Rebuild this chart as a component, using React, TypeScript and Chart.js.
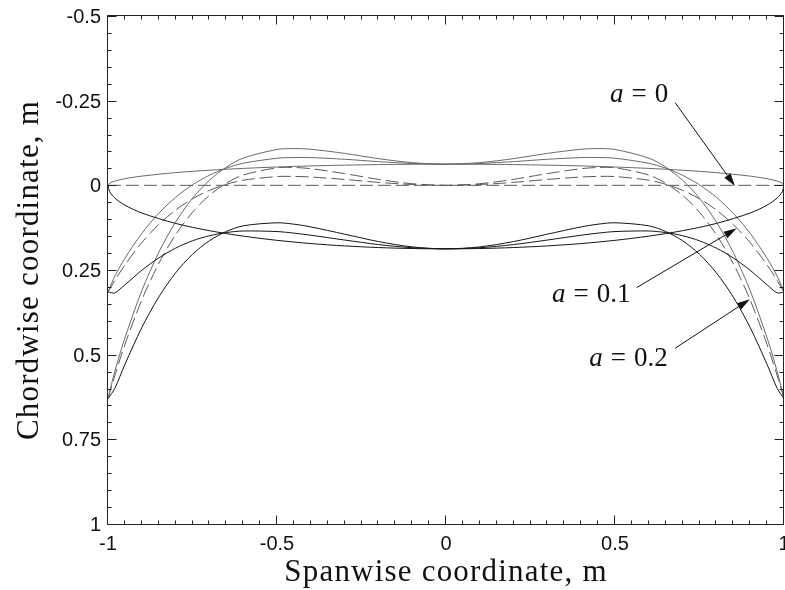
import React, { useEffect, useRef } from "react";
import { Chart, registerables } from "chart.js";

Chart.register(...registerables);

// Spanwise stations (m) for the swept planforms a = 0.1 and a = 0.2
const SPAN = [-1, -0.98, -0.95, -0.9, -0.85, -0.8, -0.75, -0.7, -0.65, -0.6, -0.5, -0.45, -0.4, -0.3, -0.2, -0.1, 0,
  0.1, 0.2, 0.3, 0.4, 0.45, 0.5, 0.6, 0.65, 0.7, 0.75, 0.8, 0.85, 0.9, 0.95, 0.98, 1];

// a = 0.1 : leading edge, trailing edge, quarter-chord line
const LE_A1 = [0.3149, 0.2688, 0.2156, 0.142, 0.0828, 0.0355, -0.0015, -0.0297, -0.0506, -0.0652, -0.08, -0.0821, -0.0819, -0.077, -0.07, -0.0646, -0.0625,
  -0.0646, -0.07, -0.077, -0.0819, -0.0821, -0.08, -0.0652, -0.0506, -0.0297, -0.0015, 0.0355, 0.0828, 0.142, 0.2156, 0.2688, 0.3149];
const TE_A1 = [0.3149, 0.3175, 0.2937, 0.2509, 0.2145, 0.1855, 0.1638, 0.1488, 0.1394, 0.1348, 0.1365, 0.1411, 0.1473, 0.1615, 0.1749, 0.1842, 0.1875,
  0.1842, 0.1749, 0.1615, 0.1473, 0.1411, 0.1365, 0.1348, 0.1394, 0.1488, 0.1638, 0.1855, 0.2145, 0.2509, 0.2937, 0.3175, 0.3149];
const QC_A1 = [0.3149, 0.2812, 0.2351, 0.1692, 0.1157, 0.073, 0.0398, 0.0149, -0.0031, -0.0152, -0.0259, -0.0263, -0.0246, -0.0174, -0.0088, -0.0024, 0,
  -0.0024, -0.0088, -0.0174, -0.0246, -0.0263, -0.0259, -0.0152, -0.0031, 0.0149, 0.0398, 0.073, 0.1157, 0.1692, 0.2351, 0.2812, 0.3149];

// a = 0.2 : leading edge, trailing edge, quarter-chord line
const LE_A2 = [0.6299, 0.5501, 0.4508, 0.3112, 0.1984, 0.1085, 0.0384, -0.0149, -0.0537, -0.0804, -0.1059, -0.1085, -0.1065, -0.0943, -0.0789, -0.067, -0.0625,
  -0.067, -0.0789, -0.0943, -0.1065, -0.1085, -0.1059, -0.0804, -0.0537, -0.0149, 0.0384, 0.1085, 0.1984, 0.3112, 0.4508, 0.5501, 0.6299];
const TE_A2 = [0.6299, 0.5998, 0.5289, 0.4201, 0.3301, 0.2585, 0.2037, 0.1636, 0.1363, 0.1196, 0.1106, 0.1147, 0.1227, 0.1442, 0.166, 0.1818, 0.1875,
  0.1818, 0.166, 0.1442, 0.1227, 0.1147, 0.1106, 0.1196, 0.1363, 0.1636, 0.2037, 0.2585, 0.3301, 0.4201, 0.5289, 0.5998, 0.6299];
const QC_A2 = [0.6299, 0.5625, 0.4703, 0.3384, 0.2313, 0.146, 0.0797, 0.0297, -0.0062, -0.0304, -0.0518, -0.0527, -0.0492, -0.0347, -0.0177, -0.0048, 0,
  -0.0048, -0.0177, -0.0347, -0.0492, -0.0527, -0.0518, -0.0304, -0.0062, 0.0297, 0.0797, 0.146, 0.2313, 0.3384, 0.4703, 0.5625, 0.6299];

// a = 0 : elliptic planform
const SPAN_E = [-1, -0.995, -0.98, -0.95, -0.9, -0.8, -0.7, -0.6, -0.5, -0.4, -0.3, -0.2, -0.1, 0,
  0.1, 0.2, 0.3, 0.4, 0.5, 0.6, 0.7, 0.8, 0.9, 0.95, 0.98, 0.995, 1];
const LE_A0 = [0, -0.0062, -0.0124, -0.0195, -0.0272, -0.0375, -0.0446, -0.05, -0.0541, -0.0573, -0.0596, -0.0612, -0.0622, -0.0625,
  -0.0622, -0.0612, -0.0596, -0.0573, -0.0541, -0.05, -0.0446, -0.0375, -0.0272, -0.0195, -0.0124, -0.0062, 0];
const TE_A0 = [0, 0.0187, 0.0373, 0.0585, 0.0817, 0.1125, 0.1339, 0.15, 0.1624, 0.1719, 0.1789, 0.1837, 0.1866, 0.1875,
  0.1866, 0.1837, 0.1789, 0.1719, 0.1624, 0.15, 0.1339, 0.1125, 0.0817, 0.0585, 0.0373, 0.0187, 0];
const SPAN_QC0 = [-1, 1];
const QC_A0 = [0, 0];

// Axes
const X_MIN = -1;
const X_MAX = 1;
const Y_MIN = -0.5;
const Y_MAX = 1;
const X_TICKS = [-1, -0.5, 0, 0.5, 1];
const X_TICK_LABELS = ["-1", "-0.5", "0", "0.5", "1"];
const Y_TICKS = [-0.5, -0.25, 0, 0.25, 0.5, 0.75, 1];
const Y_TICK_LABELS = ["-0.5", "-0.25", "0", "0.25", "0.5", "0.75", "1"];
const MINOR_STEP = 0.05;
const X_TITLE = "Spanwise coordinate, m";
const Y_TITLE = "Chordwise coordinate, m";

// Annotations
const ANNOT_VALUES = ["0", "0.1", "0.2"];
const ANNOT_TEXT_X = [0.485, 0.3136, 0.424];
const ANNOT_TEXT_Y = [-0.245, 0.3445, 0.533];
const ARROW_FROM_X = [0.678, 0.564, 0.678];
const ARROW_FROM_Y = [-0.244, 0.302, 0.481];
const ARROW_TO_X = [0.855, 0.86, 0.899];
const ARROW_TO_Y = [0.002, 0.127, 0.3365];

const pts = (xs: number[], ys: number[]) => xs.map((x, i) => ({ x, y: ys[i] }));

const LE_COLOR = "#6a6a6a";
const TE_COLOR = "#151515";
const QC_COLOR = "#5a5a5a";

const line = (xs: number[], ys: number[], color: string, dashed = false) => ({
  data: pts(xs, ys),
  showLine: true,
  borderColor: color,
  borderWidth: 1,
  pointRadius: 0,
  tension: 0.3,
  borderDash: dashed ? [13, 5] : [],
  fill: false,
});

const framePlugin = {
  id: "framePlugin",
  beforeDraw(chart: any) {
    const ctx = chart.ctx;
    ctx.save();
    ctx.fillStyle = "#ffffff";
    ctx.fillRect(0, 0, chart.width, chart.height);
    ctx.restore();
  },
  afterDraw(chart: any) {
    const ctx = chart.ctx;
    const xs = chart.scales.x;
    const ys = chart.scales.y;
    const { left, right, top, bottom } = chart.chartArea;
    const L = left - 0.5;
    const R = right - 0.5;
    const T = top - 0.5;
    const B = bottom + 0.5;
    ctx.save();
    ctx.strokeStyle = "#222";
    ctx.lineWidth = 1;
    ctx.setLineDash([]);
    ctx.beginPath();
    ctx.moveTo(L, T);
    ctx.lineTo(R, T);
    ctx.lineTo(R, B);
    ctx.lineTo(L, B);
    ctx.closePath();
    ctx.stroke();

    const MAJ = 9;
    const MIN = 4;
    ctx.beginPath();
    const nx = Math.round((X_MAX - X_MIN) / MINOR_STEP);
    for (let i = 0; i <= nx; i++) {
      const v = X_MIN + i * MINOR_STEP;
      const isMaj = X_TICKS.some((t) => Math.abs(t - v) < 1e-6);
      const len = isMaj ? MAJ : MIN;
      const px = Math.round(xs.getPixelForValue(v)) - 0.5;
      ctx.moveTo(px, B);
      ctx.lineTo(px, B - len);
      ctx.moveTo(px, T);
      ctx.lineTo(px, T + len);
    }
    const ny = Math.round((Y_MAX - Y_MIN) / MINOR_STEP);
    for (let i = 0; i <= ny; i++) {
      const v = Y_MIN + i * MINOR_STEP;
      const isMaj = Y_TICKS.some((t) => Math.abs(t - v) < 1e-6);
      const len = isMaj ? MAJ : MIN;
      const py = Math.round(ys.getPixelForValue(v)) + 0.5;
      ctx.moveTo(L, py);
      ctx.lineTo(L + len, py);
      ctx.moveTo(R, py);
      ctx.lineTo(R - len, py);
    }
    ctx.stroke();

    // tick labels
    ctx.fillStyle = "#111";
    ctx.font = '20px "Liberation Sans", Arial, sans-serif';
    ctx.textBaseline = "alphabetic";
    ctx.textAlign = "center";
    X_TICKS.forEach((t, i) => {
      ctx.fillText(X_TICK_LABELS[i], xs.getPixelForValue(t), bottom + 26);
    });
    ctx.textAlign = "right";
    Y_TICKS.forEach((t, i) => {
      ctx.fillText(Y_TICK_LABELS[i], left - 7, ys.getPixelForValue(t) + 7);
    });

    // axis titles
    ctx.font = '31px "Liberation Serif", "Times New Roman", serif';
    try { (ctx as any).letterSpacing = "1.2px"; } catch (e) {}
    ctx.textAlign = "center";
    ctx.fillText(X_TITLE, (left + right) / 2, bottom + 57);
    ctx.save();
    ctx.translate(38, (top + bottom) / 2);
    ctx.rotate(-Math.PI / 2);
    ctx.fillText(Y_TITLE, 0, 0);
    ctx.restore();
    try { (ctx as any).letterSpacing = "0px"; } catch (e) {}

    // annotations
    ctx.strokeStyle = "#111";
    ctx.fillStyle = "#111";
    ANNOT_VALUES.forEach((val, i) => {
      const x0 = xs.getPixelForValue(ARROW_FROM_X[i]);
      const y0 = ys.getPixelForValue(ARROW_FROM_Y[i]);
      const x1 = xs.getPixelForValue(ARROW_TO_X[i]);
      const y1 = ys.getPixelForValue(ARROW_TO_Y[i]);
      const ang = Math.atan2(y1 - y0, x1 - x0);
      const hl = 13;
      const hw = 3.8;
      const bx = x1 - hl * Math.cos(ang);
      const by = y1 - hl * Math.sin(ang);
      ctx.beginPath();
      ctx.moveTo(x0, y0);
      ctx.lineTo(bx, by);
      ctx.stroke();
      ctx.beginPath();
      ctx.moveTo(x1, y1);
      ctx.lineTo(bx + hw * Math.sin(ang), by - hw * Math.cos(ang));
      ctx.lineTo(bx - hw * Math.sin(ang), by + hw * Math.cos(ang));
      ctx.closePath();
      ctx.fill();

      const tx = xs.getPixelForValue(ANNOT_TEXT_X[i]);
      const ty = ys.getPixelForValue(ANNOT_TEXT_Y[i]);
      ctx.textAlign = "left";
      ctx.font = 'italic 27px "Liberation Serif", "Times New Roman", serif';
      ctx.fillText("a", tx, ty);
      let cx = tx + ctx.measureText("a").width + 8;
      ctx.font = '27px "Liberation Serif", "Times New Roman", serif';
      ctx.fillText("=", cx, ty);
      cx += ctx.measureText("=").width + 8;
      ctx.fillText(val, cx, ty);
    });
    ctx.restore();
  },
};

export default function App() {
  const ref = useRef<HTMLCanvasElement>(null);
  useEffect(() => {
    if (!ref.current) return;
    const chart = new Chart(ref.current, {
      type: "scatter",
      data: {
        datasets: [
          line(SPAN_E, LE_A0, LE_COLOR),
          line(SPAN_E, TE_A0, TE_COLOR),
          line(SPAN_QC0, QC_A0, QC_COLOR, true),
          line(SPAN, LE_A1, LE_COLOR),
          line(SPAN, TE_A1, TE_COLOR),
          line(SPAN, QC_A1, QC_COLOR, true),
          line(SPAN, LE_A2, LE_COLOR),
          line(SPAN, TE_A2, TE_COLOR),
          line(SPAN, QC_A2, QC_COLOR, true),
        ] as any,
      },
      options: {
        animation: false,
        responsive: false,
        devicePixelRatio: 1,
        events: [],
        layout: { padding: { left: 108, top: 16, right: 1, bottom: 66 } },
        plugins: { legend: { display: false }, tooltip: { enabled: false } },
        scales: {
          x: { type: "linear", min: X_MIN, max: X_MAX, display: false },
          y: { type: "linear", min: Y_MIN, max: Y_MAX, reverse: true, display: false },
        },
      } as any,
      plugins: [framePlugin],
    });
    return () => chart.destroy();
  }, []);
  return (
    <div style={{ position: "fixed", left: 0, top: 0, width: 785, height: 590, background: "#fff" }}>
      <canvas ref={ref} width={785} height={590} style={{ width: 785, height: 590, display: "block" }} />
    </div>
  );
}
